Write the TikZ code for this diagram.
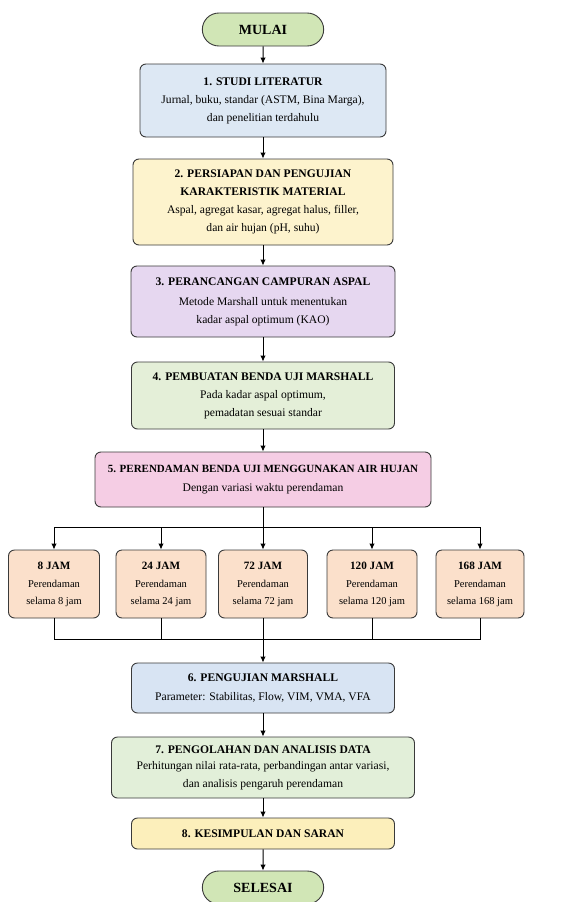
\documentclass[tikz,border=0pt]{standalone}
\usepackage{fontspec}
\setmainfont{Liberation Serif}
\usetikzlibrary{arrows.meta,shapes.misc}
\definecolor{lineC}{HTML}{3A3A3A}
\definecolor{termG}{HTML}{D1E6B6}
\definecolor{cA}{HTML}{DDE8F4}
\definecolor{cB}{HTML}{FDF3CD}
\definecolor{cC}{HTML}{E6D7F0}
\definecolor{cD}{HTML}{E4EFD8}
\definecolor{cE}{HTML}{F5CDE4}
\definecolor{cJ}{HTML}{FBE0CB}
\definecolor{cF}{HTML}{D8E4F3}
\definecolor{cG}{HTML}{E2EFD9}
\definecolor{cH}{HTML}{FCEFBB}
\newcommand\boxtitle[1]{{\bfseries\fontsize{11.6}{17.5}\selectfont #1}}
\newcommand\smalltitle[1]{{\bfseries\fontsize{11.2}{16.5}\selectfont #1}}
\tikzset{
  box/.style={draw=lineC, line width=0.9pt, rounded corners=6pt, align=center,
    inner sep=2pt, font=\fontsize{11.6}{17.5}\selectfont},
  jbox/.style={box, fill=cJ, minimum height=68pt, font=\fontsize{10.5}{16.5}\selectfont},
  term/.style={draw=lineC, line width=0.9pt, rounded rectangle, fill=termG,
    minimum width=128pt, minimum height=33pt, font=\bfseries\fontsize{14}{16}\selectfont},
  conn/.style={line width=1pt, draw=black, line cap=rect},
  arr/.style={line width=1pt, draw=black, -{Latex[length=6pt,width=5.5pt]}},
}
\begin{document}
\begin{tikzpicture}[x=1pt,y=-1pt]
\useasboundingbox (0,0) rectangle (572,902);
\clip (0,0) rectangle (572,902);
\fill[white] (0,0) rectangle (572,902);

\node[term] (mulai) at (263,29.5) {MULAI};

\node[box, fill=cA, minimum width=246pt, minimum height=73pt] (s1) at (263,100.5)
  {\boxtitle{1. STUDI LITERATUR}\\[1pt] Jurnal, buku, standar (ASTM, Bina Marga),\\ dan penelitian terdahulu};

\node[box, fill=cB, minimum width=260pt, minimum height=86pt] (s2) at (263,202)
  {\boxtitle{2. PERSIAPAN DAN PENGUJIAN}\\ \boxtitle{KARAKTERISTIK MATERIAL}\\[1pt] Aspal, agregat kasar, agregat halus, filler,\\ dan air hujan (pH, suhu)};

\node[box, fill=cC, minimum width=264pt, minimum height=71pt] (s3) at (263,301.5)
  {\boxtitle{3. PERANCANGAN CAMPURAN ASPAL}\\[3pt] Metode Marshall untuk menentukan\\ kadar aspal optimum (KAO)};

\node[box, fill=cD, minimum width=263pt, minimum height=67pt] (s4) at (263,395.5)
  {\boxtitle{4. PEMBUATAN BENDA UJI MARSHALL}\\[1pt] Pada kadar aspal optimum,\\ pemadatan sesuai standar};

\node[box, fill=cE, minimum width=336pt, minimum height=55pt] (s5) at (263,479.5)
  {{\bfseries\fontsize{11}{17.5}\selectfont 5. PERENDAMAN BENDA UJI MENGGUNAKAN AIR HUJAN}\\[2pt] Dengan variasi waktu perendaman};

\node[jbox, minimum width=91pt] (j1) at (54,584)
  {\smalltitle{8 JAM}\\[2pt] Perendaman\\ selama 8 jam};
\node[jbox, minimum width=90pt] (j2) at (161,584)
  {\smalltitle{24 JAM}\\[2pt] Perendaman\\ selama 24 jam};
\node[jbox, minimum width=89pt] (j3) at (263,584)
  {\smalltitle{72 JAM}\\[2pt] Perendaman\\ selama 72 jam};
\node[jbox, minimum width=90pt] (j4) at (372,584)
  {\smalltitle{120 JAM}\\[2pt] Perendaman\\ selama 120 jam};
\node[jbox, minimum width=88pt] (j5) at (480,584)
  {\smalltitle{168 JAM}\\[2pt] Perendaman\\ selama 168 jam};

\node[box, fill=cF, minimum width=263pt, minimum height=50pt] (s6) at (263,688)
  {\boxtitle{6. PENGUJIAN MARSHALL}\\[1pt] Parameter: Stabilitas, Flow, VIM, VMA, VFA};

\node[box, fill=cG, minimum width=303pt, minimum height=61pt] (s7) at (263,767.5)
  {\boxtitle{7. PENGOLAHAN DAN ANALISIS DATA}\\[-1pt] Perhitungan nilai rata-rata, perbandingan antar variasi,\\ dan analisis pengaruh perendaman};

\node[box, fill=cH, minimum width=263pt, minimum height=31pt] (s8) at (263,833.5)
  {\boxtitle{8. KESIMPULAN DAN SARAN}};

\node[term] (selesai) at (263,887.5) {SELESAI};

% main arrows
\draw[arr] (mulai) -- (s1);
\draw[arr] (s1) -- (s2);
\draw[arr] (s2) -- (s3);
\draw[arr] (s3) -- (s4);
\draw[arr] (s4) -- (s5);

% split
\coordinate (split) at (263,527);
\foreach \i in {1,...,5} {\coordinate (b\i) at (j\i.north |- split);}
\draw[conn] (s5.south) -- (split);
\draw[conn] (b1) -- (b5);
\foreach \i in {1,...,5} {\draw[arr] (b\i) -- (j\i.north);}

% merge
\coordinate (merge) at (263,639);
\foreach \i in {1,...,5} {\coordinate (m\i) at (j\i.south |- merge);}
\foreach \i in {1,2,4,5} {\draw[conn] (j\i.south) -- (m\i);}
\draw[conn] (m1) -- (m5);
\draw[arr] (j3.south) -- (s6.north);

\draw[arr] (s6) -- (s7);
\draw[arr] (s7) -- (s8);
\draw[arr] (s8) -- (selesai);
\end{tikzpicture}
\end{document}
